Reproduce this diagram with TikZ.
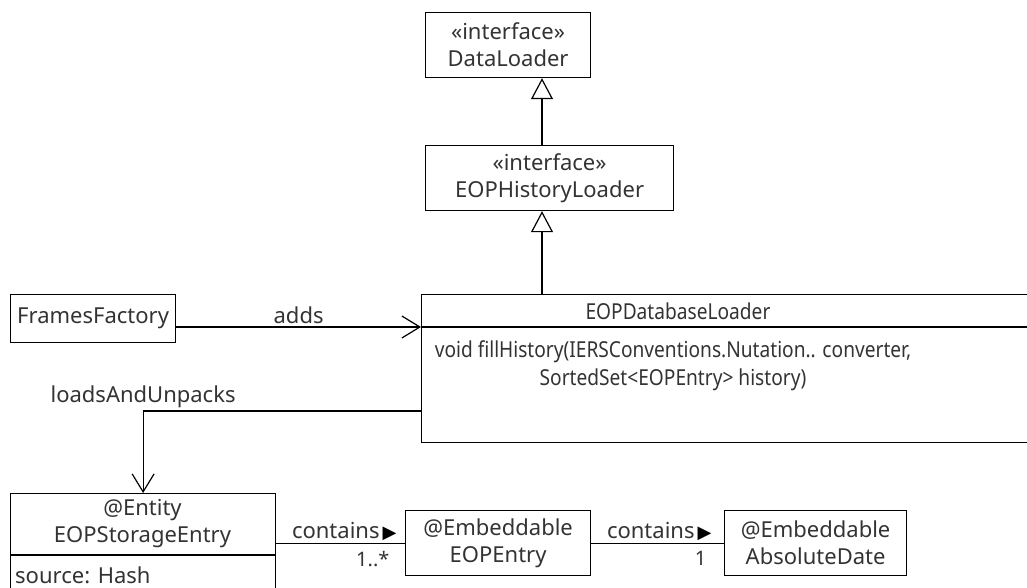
\documentclass[tikz,border=0pt]{standalone}
\usepackage{fontspec}
\setmainfont{Noto Sans}
\newfontfamily\narrowfont{Noto Sans}[FakeStretch=0.87]
\newfontfamily\symfont{DejaVu Sans}
\usepackage{tikz}
\usetikzlibrary{arrows.meta,calc,positioning}
\tikzset{umlbox/.style={
    draw,
    line width=1.2pt,
    anchor=north west,
    align=center,
    inner sep=0pt
  },
  inherit/.style={draw, line width=1.2pt, -{Triangle[open,length=21pt,width=22pt]}},
  assoc/.style={draw, line width=1.2pt, -{Straight Barb[length=18pt,width=22pt]}},
  link/.style={draw, line width=1.2pt},
  mult/.style={font=\fontsize{20}{22}\selectfont, inner sep=2pt, yshift=-6pt}
}
\newcommand{\navarrow}{{\symfont\fontsize{18}{18}\selectfont\,\textcolor{black}{▶}}}

\begin{document}
\begin{tikzpicture}[x=1pt, y=-1pt, font=\fontsize{22}{27}\selectfont, every node/.style={text=black!80}]
    \useasboundingbox (0,0) rectangle (1027,588);
    % interfaces
    \node[umlbox, minimum width=165pt, minimum height=65pt] (dataloader) at (425,12) {«interface»\\DataLoader};
    \node[umlbox, minimum width=248pt, minimum height=65pt] (historyloader) at (425,145) {«interface»\\EOPHistoryLoader};
    % loader class
    \node[umlbox, minimum width=620pt, minimum height=148pt] (dbloader) at (421,294) {};
    \coordinate (dbsep) at ($(dbloader.north west)+(0,33)$);
    \coordinate (dbout) at ($(dbloader.north west)+(0,117)$);
    \draw[link] (dbsep) -- (dbsep -| dbloader.east);
    \node[inner sep=0pt, font=\narrowfont\fontsize{22}{27}\selectfont] (dbtitle) at (678,311) {EOPDatabaseLoader};
    \node[align=center, inner sep=0pt, font=\narrowfont\fontsize{22}{28}\selectfont] (dbmethod) at (673,366) {void fillHistory(IERSConventions.Nutation.. converter,\\SortedSet<EOPEntry> history)};
    \node[umlbox, minimum width=165pt, minimum height=48pt] (frames) at (10,294) {FramesFactory};
    % storage entities
    \node[umlbox, minimum width=265pt, minimum height=110pt] (storage) at (10,493) {};
    \draw[link] ($(storage.north west)+(0,62)$) -- ($(storage.north east)+(0,62)$);
    \node[align=center, inner sep=0pt] (storagetitle) at (142.5,524) {@Entity\\EOPStorageEntry};
    \node[anchor=west, inner sep=0pt] (storageattr) at ($(storage.north west)+(5,82)$) {source: Hash};
    \node[umlbox, minimum width=185pt, minimum height=65pt] (eopentry) at (405,510) {@Embeddable\\EOPEntry};
    \node[umlbox, minimum width=182pt, minimum height=65pt] (absdate) at (724,510) {@Embeddable\\AbsoluteDate};
    % relations
    \coordinate (hier) at (542,0);
    \draw[inherit] (historyloader.north -| hier) -- (dataloader.south -| hier);
    \draw[inherit] (dbloader.north -| hier) -- (historyloader.south -| hier);
    \draw[assoc] (frames.east |- dbsep) -- node[above, inner sep=3pt] {adds} (dbsep);
    \draw[assoc] (dbout) -| node[pos=0.5, above, inner sep=3pt] {loadsAndUnpacks} (storage.north);
    \draw[link] (storage.east |- eopentry.west) -- node[pos=1, above left, inner sep=2pt, xshift=-6pt] {contains\navarrow} node[pos=1, below left, mult, xshift=-13pt] {1..*} (eopentry.west);
    \draw[link] (eopentry.east) -- node[pos=1, above left, inner sep=2pt, xshift=-10pt] {contains\navarrow} node[pos=1, below left, mult, xshift=-15pt] {1} (absdate.west);
\end{tikzpicture}
\end{document}
